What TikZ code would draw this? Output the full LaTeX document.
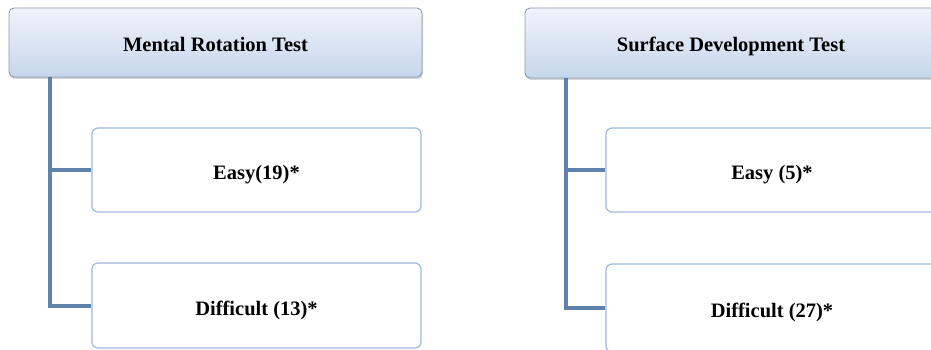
\documentclass[tikz,border=0pt]{standalone}
\usepackage{fontspec}
\setmainfont{Liberation Serif}
\usetikzlibrary{shadows}
\definecolor{hdrtop}{HTML}{F0F3FA}
\definecolor{hdrbot}{HTML}{C6D6EC}
\definecolor{hdrline}{HTML}{8C9BB0}
\definecolor{boxline}{HTML}{9DB9DC}
\definecolor{conn}{HTML}{5F82AA}
\tikzset{
  header/.style={draw=hdrline, line width=0.9pt, rounded corners=5pt, top color=hdrtop, bottom color=hdrbot,
    drop shadow={opacity=0.35, shadow xshift=1pt, shadow yshift=-2pt},
    font=\fontsize{20.5}{24}\selectfont\bfseries, inner sep=0pt, text depth=0pt, text height=17.6pt},
  leaf/.style={draw=boxline, line width=1.2pt, rounded corners=6pt, fill=white,
    font=\fontsize{20.5}{24}\selectfont\bfseries, inner sep=0pt, text depth=0pt, text height=19.6pt},
  link/.style={draw=conn, line width=4pt}
}
\begin{document}
\begin{tikzpicture}[x=1pt,y=-1pt]
\useasboundingbox (0,0) rectangle (931,350);
% left tree
\node[header, minimum width=413pt, minimum height=69pt] (h1) at (215.5,42.5) {Mental Rotation Test};
\node[leaf, minimum width=329pt, minimum height=84pt] (e1) at (256.5,170) {Easy(19)*};
\node[leaf, minimum width=329pt, minimum height=85pt] (d1) at (256.5,305.5) {Difficult (13)*};
\coordinate (t1) at (50,77);
\draw[link] (t1) |- (d1.west);
\draw[link] (t1 |- e1.west) -- (e1.west);
% right tree
\node[header, minimum width=412pt, minimum height=70pt] (h2) at (731,43) {Surface Development Test};
\node[leaf, minimum width=332pt, minimum height=84pt] (e2) at (772,170) {Easy (5)*};
\node[leaf, minimum width=332pt, minimum height=88pt] (d2) at (772,308) {Difficult (27)*};
\coordinate (t2) at (566,78);
\draw[link] (t2) |- (d2.west);
\draw[link] (t2 |- e2.west) -- (e2.west);
\end{tikzpicture}
\end{document}
